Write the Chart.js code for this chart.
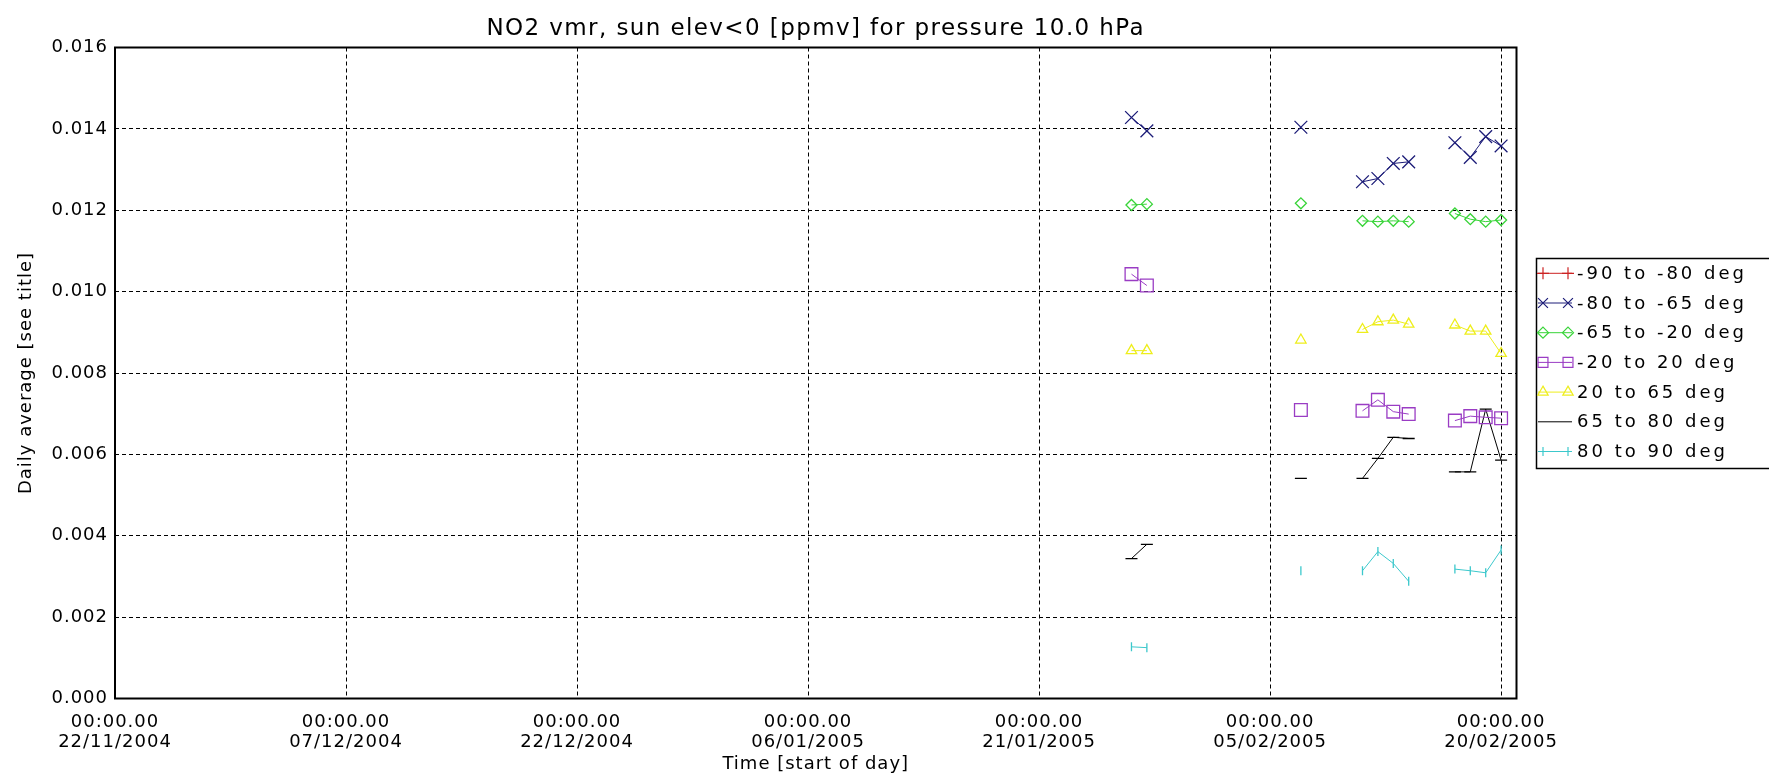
<!DOCTYPE html>
<html><head><meta charset="utf-8">
<script src="https://cdn.jsdelivr.net/npm/chart.js@4.4.1/dist/chart.umd.min.js"></script>
<style>html,body{margin:0;padding:0;background:#fff}#wrap{width:1769px;height:784px;position:relative}</style>
</head><body><div id="wrap"><canvas id="c" width="1769" height="784"></canvas></div>
<script>
// ---- data ----
const titleText = 'NO2 vmr, sun elev<0 [ppmv] for pressure 10.0 hPa';
const yTitle = 'Daily average [see title]';
const xTitle = 'Time [start of day]';
const tickDays = [0, 15, 30, 45, 60, 75, 90];          // days since 22/11/2004
const tickDates = ['22/11/2004', '07/12/2004', '22/12/2004', '06/01/2005', '21/01/2005', '05/02/2005', '20/02/2005'];
const tickTime = '00:00.00';
const yTicks = [0, 0.002, 0.004, 0.006, 0.008, 0.010, 0.012, 0.014, 0.016];
const days = [66, 67, 77, 81, 82, 83, 84, 87, 88, 89, 90];
const seriesNames = ['-90 to -80 deg', '-80 to -65 deg', '-65 to -20 deg', '-20 to 20 deg', '20 to 65 deg', '65 to 80 deg', '80 to 90 deg'];
const sM90 = [null, null, null, null, null, null, null, null, null, null, null];
const sM80 = [0.01428, 0.01395, 0.01404, 0.01270, 0.01278, 0.01315, 0.01319, 0.01366, 0.01330, 0.01381, 0.01358];
const sM65 = [0.01213, 0.01215, 0.01217, 0.01174, 0.01172, 0.01174, 0.01172, 0.01192, 0.01178, 0.01172, 0.01176];
const sM20 = [0.01043, 0.01015, 0.00709, 0.00707, 0.00734, 0.00705, 0.00699, 0.00683, 0.00694, 0.00691, 0.00689];
const s20 = [0.00855, 0.00855, 0.00881, 0.00907, 0.00926, 0.00930, 0.00920, 0.00918, 0.00903, 0.00903, 0.00848];
const s65 = [0.00344, 0.00379, 0.00541, 0.00541, 0.00590, 0.00642, 0.00639, 0.00557, 0.00557, 0.00711, 0.00586];
const s80 = [0.00127, 0.00125, 0.00314, 0.00314, 0.00361, 0.00332, 0.00288, 0.00318, 0.00314, 0.00309, 0.00365];

// ---- build points (break line where days are not consecutive) ----
function toPoints(vals) {
  const out = [];
  days.forEach((d, i) => {
    if (i > 0 && d - days[i - 1] > 1) out.push({x: (d + days[i - 1]) / 2, y: null});
    out.push({x: d, y: vals[i]});
  });
  return out;
}
const styles = [
  {c: '#cc2222', ps: 'cross', r: 6, rot: 0, leg: true},
  {c: '#1c1c78', ps: 'crossRot', r: 9, rot: 0, leg: true},
  {c: '#38d438', ps: 'rectRot', r: 5.5, rot: 0, leg: true},
  {c: '#9a3cc4', ps: 'rect', r: 9, rot: 0, leg: true},
  {c: '#eeee1c', ps: 'triangle', r: 6, rot: 0, leg: true},
  {c: '#000000', ps: 'line', r: 6, rot: 0, leg: false},
  {c: '#3cc8cc', ps: 'line', r: 4.5, rot: 90, leg: true}
];
const allSeries = [sM90, sM80, sM65, sM20, s20, s65, s80];
const datasets = allSeries.map((s, i) => ({
  label: seriesNames[i],
  data: toPoints(s),
  borderColor: styles[i].c,
  backgroundColor: 'rgba(0,0,0,0)',
  borderWidth: 1,
  pointStyle: styles[i].ps,
  pointRadius: styles[i].r,
  pointRotation: styles[i].rot,
  pointBorderColor: styles[i].c,
  pointBackgroundColor: 'rgba(0,0,0,0)',
  pointBorderWidth: 1.3,
  spanGaps: false,
  tension: 0
}));

Chart.defaults.font.family = 'DejaVu Sans';
Chart.defaults.font.size = 18;
Chart.defaults.color = '#000';

const spacing = {
  id: 'spacing',
  beforeUpdate(chart) { try { chart.ctx.letterSpacing = '1px'; } catch (e) {} },
  beforeDraw(chart) { try { chart.ctx.letterSpacing = '1px'; } catch (e) {} }
};

const frame = {
  id: 'frame',
  afterDraw(chart) {
    const {ctx, chartArea: a} = chart;
    ctx.save();
    ctx.strokeStyle = '#000';
    ctx.lineWidth = 2;
    ctx.strokeRect(a.left, a.top, a.right - a.left, a.bottom - a.top);
    // title
    ctx.font = '23px "DejaVu Sans"';
    ctx.fillStyle = '#000';
    ctx.textAlign = 'center';
    ctx.textBaseline = 'middle';
    try { ctx.letterSpacing = '1.4px'; } catch (e) {}
    ctx.fillText(titleText, (a.left + a.right) / 2, 29);
    // legend
    const lx = 1536.5, ly = 258.5, lw = 240, lh = 210;
    ctx.lineWidth = 1.5;
    ctx.strokeRect(lx, ly, lw, lh);
    ctx.font = '18px "DejaVu Sans"';
    try { ctx.letterSpacing = '3px'; } catch (e) {}
    ctx.textAlign = 'left';
    chart.data.datasets.forEach((ds, i) => {
      const y = 273.3 + i * 29.7;
      ctx.strokeStyle = ds.borderColor;
      ctx.lineWidth = 1;
      ctx.beginPath(); ctx.moveTo(1538, y); ctx.lineTo(1572, y); ctx.stroke();
      if (styles[i].leg) {
        ctx.lineWidth = 1.2;
        const o = {pointStyle: ds.pointStyle, rotation: ds.pointRotation, radius: Math.min(ds.pointRadius, 7), borderWidth: 1.2};
        ctx.fillStyle = 'rgba(0,0,0,0)';
        Chart.helpers.drawPoint(ctx, o, 1543, y);
        Chart.helpers.drawPoint(ctx, o, 1568, y);
      }
      ctx.fillStyle = '#000';
      ctx.fillText(ds.label, 1577, y + 1);
    });
    ctx.restore();
  }
};

new Chart(document.getElementById('c'), {
  type: 'line',
  data: {datasets},
  options: {
    responsive: false,
    animation: false,
    devicePixelRatio: 1,
    layout: {padding: {left: 0, right: 252.5, top: 47.5, bottom: 0}},
    plugins: {legend: {display: false}, title: {display: false}, tooltip: {enabled: false}},
    scales: {
      x: {
        type: 'linear', min: 0, max: 91,
        afterBuildTicks(scale) { scale.ticks = tickDays.map(v => ({value: v})); },
        afterFit(scale) { scale.height = 85.5; },
        ticks: {
          autoSkip: false, maxRotation: 0, padding: 13.5,
          font: {size: 18, lineHeight: 1.11},
          callback(v) { const i = tickDays.indexOf(v); return i < 0 ? '' : [tickTime, tickDates[i]]; }
        },
        grid: {color: '#000', lineWidth: 1, drawTicks: false},
        border: {display: false, dash: [4, 3]},
        title: {display: true, text: xTitle, font: {size: 18, lineHeight: 1.2}, padding: {top: 0, bottom: 9}}
      },
      y: {
        min: 0, max: 0.016,
        afterBuildTicks(scale) { scale.ticks = yTicks.map(v => ({value: v})); },
        afterFit(scale) { scale.width = 115; },
        ticks: {padding: 7, font: {size: 18}, callback(v) { return v.toFixed(3); }},
        grid: {color: '#000', lineWidth: 1, drawTicks: false},
        border: {display: false, dash: [4, 3]},
        title: {display: true, text: yTitle, font: {size: 18, lineHeight: 1.2}, padding: {top: 16, bottom: 0}}
      }
    }
  },
  plugins: [spacing, frame]
});
</script></body></html>
